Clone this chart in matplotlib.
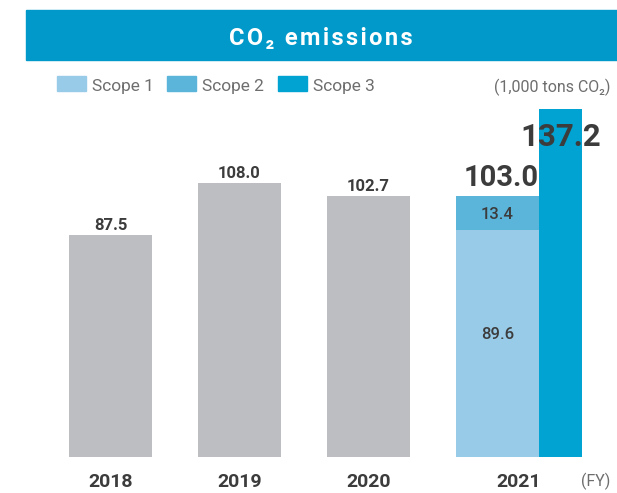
import matplotlib
matplotlib.use("Agg")
import matplotlib.pyplot as plt
from matplotlib.patches import Rectangle

plt.rcParams['font.family'] = ['Roboto', 'DejaVu Sans']

years = ["2018", "2019", "2020", "2021"]
totals_prev = [87.5, 108.0, 102.7]
scope1_2021 = 89.6
scope2_2021 = 13.4
total_2021 = 103.0
scope3_2021 = 137.2
legend_labels = ["Scope 1", "Scope 2", "Scope 3"]

GRAY = "#BDBEC2"
C1 = "#97CBE8"
C2 = "#5BB4DA"
C3 = "#00A3D1"
BANNER = "#0099C9"
TXT = "#3C3C3C"
LGT = "#6E6E6E"

W, H = 617, 493
PX = 2.537  # pixels per data unit
fig = plt.figure(figsize=(W / 100, H / 100), dpi=100)
ax = fig.add_axes([0, 0, 1, 1])
ax.axis("off")

ax.set_xlim(-110.5 / 129, (W - 110.5) / 129)
ax.set_ylim((457 - H) / PX, 457 / PX)

bw = 83 / 129
idx = list(range(len(totals_prev)))
ax.bar(idx, totals_prev, width=bw, color=GRAY)
for i, v in zip(idx, totals_prev):
    ax.text(i, v + 5 / PX, f"{v:.1f}", ha="center", va="baseline", fontsize=12,
            fontweight="bold", color=TXT)

# 2021 stacked
x21 = 3
ax.bar(x21, scope1_2021, width=bw, color=C1)
ax.bar(x21, scope2_2021, width=bw, bottom=scope1_2021, color=C2)
ax.text(x21, scope1_2021 / 2 + 4 / PX, f"{scope1_2021:.1f}", ha="center",
        va="baseline", fontsize=12, color=TXT, fontweight="medium")
ax.text(x21, scope1_2021 + scope2_2021 / 2 - 6 / PX, f"{scope2_2021:.1f}",
        ha="center", va="baseline", fontsize=12, color=TXT, fontweight="medium")
ax.text(x21 + bw / 2, total_2021 + 10 / PX, f"{total_2021:.1f}", ha="right",
        va="baseline", fontsize=21, fontweight="bold", color=TXT)
# scope 3
w3 = 43 / 129
ax.bar(x21 + bw / 2, scope3_2021, width=w3, align="edge", color=C3)
ax.text(x21 + bw / 2 + w3 / 2, scope3_2021 - 37 / PX, f"{scope3_2021:.1f}",
        ha="center", va="baseline", fontsize=22.5, fontweight="bold", color=TXT)

# year labels
year_x = [0, 1, 2, x21 + w3 / 2]
for xp, y in zip(year_x, years):
    ax.text(xp, -30 / PX, y, ha="center", va="baseline", fontsize=14,
            fontweight="bold", color=TXT)
ax.text((596 - 110.5) / 129, -29 / PX, "(FY)", ha="center", va="baseline",
        fontsize=11.5, color=LGT)

def fx(x):
    return x / W

def fy(y):
    return 1 - y / H

# banner
fig.patches.append(Rectangle((fx(26), fy(60)), fx(W) - fx(26), fy(10) - fy(60),
                             transform=fig.transFigure, color=BANNER, zorder=0))
fig.text(fx(321), fy(45), "C\u200aO\u200a₂\u200a \u200ae\u200am\u200ai\u200as\u200as\u200ai\u200ao\u200an\u200as",
         ha="center", va="baseline", fontsize=17, fontweight="bold", color="white")

# legend
sw_x = [57, 167, 278]
txt_x = [92, 202, 313]
for x0, xt, lab, c in zip(sw_x, txt_x, legend_labels, [C1, C2, C3]):
    fig.patches.append(Rectangle((fx(x0), fy(91)), fx(29), fy(76) - fy(91),
                                 transform=fig.transFigure, color=c))
    fig.text(fx(xt), fy(91), lab, ha="left", va="baseline",
             fontsize=12.5, color=LGT)

fig.text(fx(610), fy(92), "(1,000 tons CO₂)", ha="right", va="baseline",
         fontsize=11.5, color=LGT)

fig.savefig("out.png", dpi=100)
